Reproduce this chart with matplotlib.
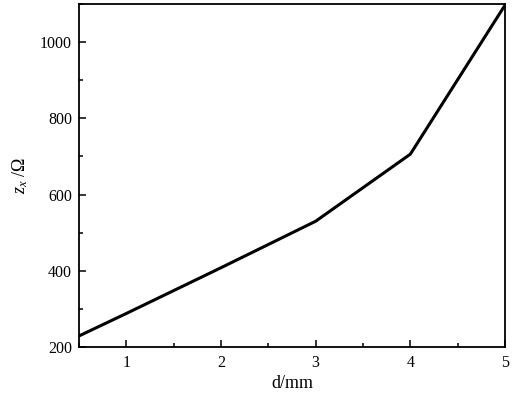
import matplotlib
matplotlib.use("Agg")
import matplotlib.pyplot as plt
from matplotlib.ticker import MultipleLocator

d_mm = [0.5, 1, 2, 3, 4, 5]
z_ohm = [229, 288, 408, 530, 706, 1097]
x_ticks = [1, 2, 3, 4, 5]
y_ticks = [200, 400, 600, 800, 1000]

plt.rcParams['font.family'] = ['Liberation Serif', 'DejaVu Serif']
plt.rcParams['mathtext.fontset'] = 'custom'
plt.rcParams['mathtext.rm'] = 'Liberation Serif'
plt.rcParams['mathtext.it'] = 'Liberation Serif:italic'

fig = plt.figure(figsize=(5.12, 3.99), dpi=100)
ax = fig.add_axes([79/512, 1-347/399, (505-79)/512, (347-4)/399])
ax.plot(d_mm, z_ohm, color='black', lw=2.2, solid_joinstyle='miter')
ax.set_xlim(0.5, 5)
ax.set_ylim(200, 1100)
ax.set_xticks(x_ticks)
ax.set_yticks(y_ticks)
ax.xaxis.set_minor_locator(MultipleLocator(0.5))
ax.yaxis.set_minor_locator(MultipleLocator(100))
ax.tick_params(which='both', direction='in', labelsize=11.5, width=1.1)
ax.tick_params(which='major', length=5)
ax.tick_params(which='minor', length=3)
ax.tick_params(axis='x', pad=6)
ax.tick_params(axis='y', pad=5)
for s in ax.spines.values():
    s.set_linewidth(1.3)
ax.set_xlabel('d/mm', fontsize=13, labelpad=2.5)
ax.set_ylabel(r'$z_x$ /$\Omega$', fontsize=13, labelpad=7)
fig.savefig('out.png', dpi=100)
